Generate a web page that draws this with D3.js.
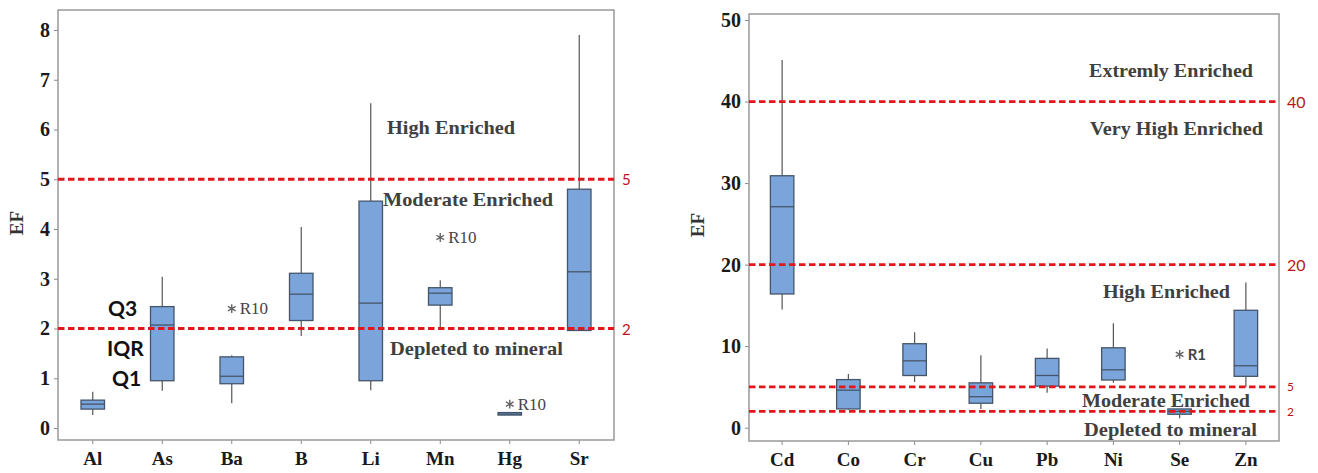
<!DOCTYPE html>
<html><head><meta charset="utf-8">
<script src="https://cdn.jsdelivr.net/npm/d3@7"></script>
<style>body{margin:0;background:#fff}svg{display:block}</style>
</head><body>
<svg id="c" width="1318" height="473"></svg>
<script>
// ---- Left panel data ----
const catsL = ["Al","As","Ba","B","Li","Mn","Hg","Sr"];
const lowL  = [0.26, 0.75, 0.50, 1.85, 0.76, 2.02, 0.26, 1.96];
const q1L   = [0.38, 0.95, 0.89, 2.16, 0.95, 2.47, 0.26, 1.96];
const medL  = [0.48, 2.07, 1.04, 2.69, 2.51, 2.71, 0.28, 3.14];
const q3L   = [0.56, 2.44, 1.43, 3.11, 4.56, 2.82, 0.31, 4.80];
const highL = [0.73, 3.04, 1.46, 4.04, 6.53, 2.97, 0.31, 7.90];
const outCatL = ["Ba","Mn","Hg"];
const outValL = [2.40, 3.83, 0.48];
const outLabL = ["R10","R10","R10"];
const ticksL = [0,1,2,3,4,5,6,7,8];
const threshL = [5, 2];
const threshLabL = ["5","2"];

// ---- Right panel data ----
const catsR = ["Cd","Co","Cr","Cu","Pb","Ni","Se","Zn"];
const lowR  = [14.5, 2.2, 5.6, 2.3, 4.3, 5.5, 1.15, 5.0];
const q1R   = [16.4, 2.3, 6.4, 3.0, 5.1, 5.85, 1.65, 6.3];
const medR  = [27.1, 4.6, 8.2, 3.8, 6.4, 7.1, 2.0, 7.6];
const q3R   = [30.9, 5.9, 10.3, 5.5, 8.5, 9.8, 2.3, 14.4];
const highR = [45.1, 6.6, 11.7, 8.9, 9.7, 12.8, 2.3, 17.8];
const outCatR = ["Se"];
const outValR = [9.0];
const outLabR = ["R1"];
const ticksR = [0,10,20,30,40,50];
const threshR = [40, 20, 5, 2];
const threshLabR = ["40","20","5","2"];

const SERIF = "'Liberation Serif','Times New Roman',serif";
const SANS = "Lato,'Open Sans',sans-serif";
const svg = d3.select("#c");

function panel(o){
  const g = svg.append("g");
  const x = d3.scaleBand().domain(o.cats).range([o.x0, o.x1]);
  const y = d3.scaleLinear().domain(o.ydom).range(o.yrng);
  const cx = c => x(c) + x.bandwidth()/2;
  // axes
  const ay = g.append("g").attr("transform", `translate(${o.x0},0)`)
    .call(d3.axisLeft(y).tickValues(o.ticks).tickSize(4).tickPadding(4));
  ay.select(".domain").remove();
  ay.selectAll("line").attr("stroke","#888");
  ay.selectAll("text").attr("font-family",SERIF).attr("font-weight","bold")
    .attr("font-size",20).attr("fill","#1a1a1a");
  const ax = g.append("g").attr("transform", `translate(0,${o.y1})`)
    .call(d3.axisBottom(x).tickSize(4).tickPadding(8));
  ax.select(".domain").remove();
  ax.selectAll("line").attr("stroke","#888");
  ax.selectAll("text").attr("font-family",SERIF).attr("font-weight","bold")
    .attr("font-size",19).attr("fill","#1a1a1a");
  // frame
  g.append("rect").attr("x",o.x0).attr("y",o.y0).attr("width",o.x1-o.x0)
    .attr("height",o.y1-o.y0).attr("fill","none").attr("stroke","#999").attr("stroke-width",1.5);
  // y title
  g.append("text").attr("transform",`translate(${o.efx},${o.efy}) rotate(-90)`)
    .attr("text-anchor","middle").attr("dominant-baseline","central")
    .attr("font-family",SERIF).attr("font-weight","bold").attr("font-size",19)
    .attr("fill","#333").text("EF");
  // boxes
  const bw = 23.5;
  o.cats.forEach((c,i)=>{
    const xc = cx(c);
    g.append("line").attr("x1",xc).attr("x2",xc).attr("y1",y(o.high[i])).attr("y2",y(o.q3[i]))
      .attr("stroke","#555").attr("stroke-width",1.2);
    g.append("line").attr("x1",xc).attr("x2",xc).attr("y1",y(o.q1[i])).attr("y2",y(o.low[i]))
      .attr("stroke","#555").attr("stroke-width",1.2);
    g.append("rect").attr("x",xc-bw/2).attr("width",bw)
      .attr("y",y(o.q3[i])).attr("height",Math.max(1.5,y(o.q1[i])-y(o.q3[i])))
      .attr("fill","#7ba5da").attr("stroke","#44556a").attr("stroke-width",1.3);
    g.append("line").attr("x1",xc-bw/2).attr("x2",xc+bw/2).attr("y1",y(o.med[i])).attr("y2",y(o.med[i]))
      .attr("stroke","#44556a").attr("stroke-width",1.3);
  });
  // thresholds
  o.thresh.forEach((t,i)=>{
    g.append("line").attr("x1",o.x0).attr("x2",o.x1).attr("y1",y(t)).attr("y2",y(t))
      .attr("stroke","#e3161b").attr("stroke-width",2.8).attr("stroke-dasharray","6.5,3.5");
    g.append("text").attr("x",o.x1+8).attr("y",y(t)).attr("dominant-baseline","central")
      .attr("font-family",SANS).attr("font-size",o.threshSize[i]).attr("fill","#b8141a")
      .text(o.threshLab[i]);
  });
  // outliers
  const star = d3.symbol().type(d3.symbolAsterisk).size(55);
  o.outCat.forEach((c,i)=>{
    const xc = cx(c), yy = y(o.outVal[i]);
    g.append("path").attr("d",star()).attr("transform",`translate(${xc},${yy})`)
      .attr("fill","none").attr("stroke","#666").attr("stroke-width",1.4);
    g.append("text").attr("x",xc+8).attr("y",yy).attr("dominant-baseline","central")
      .attr("font-family",o.outFont).attr("font-weight",o.outWeight).attr("font-size",o.outSize)
      .attr("fill","#444").text(o.outLab[i]);
  });
  return {g,x,y};
}

const L = panel({cats:catsL, x0:58, x1:614, y0:10, y1:440, ydom:[0,8], yrng:[428,30],
  ticks:ticksL, low:lowL, q1:q1L, med:medL, q3:q3L, high:highL,
  thresh:threshL, threshLab:threshLabL, threshSize:[15,15],
  outCat:outCatL, outVal:outValL, outLab:outLabL, outFont:SERIF, outWeight:"normal", outSize:17,
  efx:16, efy:223});

const R = panel({cats:catsR, x0:749, x1:1279, y0:14, y1:441, ydom:[0,50], yrng:[427.7,20],
  ticks:ticksR, low:lowR, q1:q1R, med:medR, q3:q3R, high:highR,
  thresh:threshR, threshLab:threshLabR, threshSize:[16,16,12,12],
  outCat:outCatR, outVal:outValR, outLab:outLabR, outFont:SANS, outWeight:"bold", outSize:15,
  efx:697, efy:225});

// zone annotations
function note(x,y,t,w){
  svg.append("text").attr("x",x).attr("y",y).attr("dominant-baseline","central")
    .attr("font-family",SERIF).attr("font-weight","bold").attr("font-size",19)
    .attr("fill","#404040").attr("textLength",w).attr("lengthAdjust","spacingAndGlyphs").text(t);
}
note(387,127,"High Enriched",128);
note(383,199,"Moderate Enriched",170);
note(390,348,"Depleted to mineral",173);
note(1089,70,"Extremly Enriched",164);
note(1090,128,"Very High Enriched",173);
note(1103,291,"High Enriched",127);
note(1082,400,"Moderate Enriched",168);
note(1084,429,"Depleted to mineral",173);

// quartile labels
[["Q3",108,307],["IQR",107,347],["Q1",112,377]].forEach(d=>{
  svg.append("text").attr("x",d[1]).attr("y",d[2]).attr("dominant-baseline","central")
    .attr("font-family",SANS).attr("font-weight","bold").attr("font-size",21)
    .attr("fill","#111").text(d[0]);
});
</script>
</body></html>
